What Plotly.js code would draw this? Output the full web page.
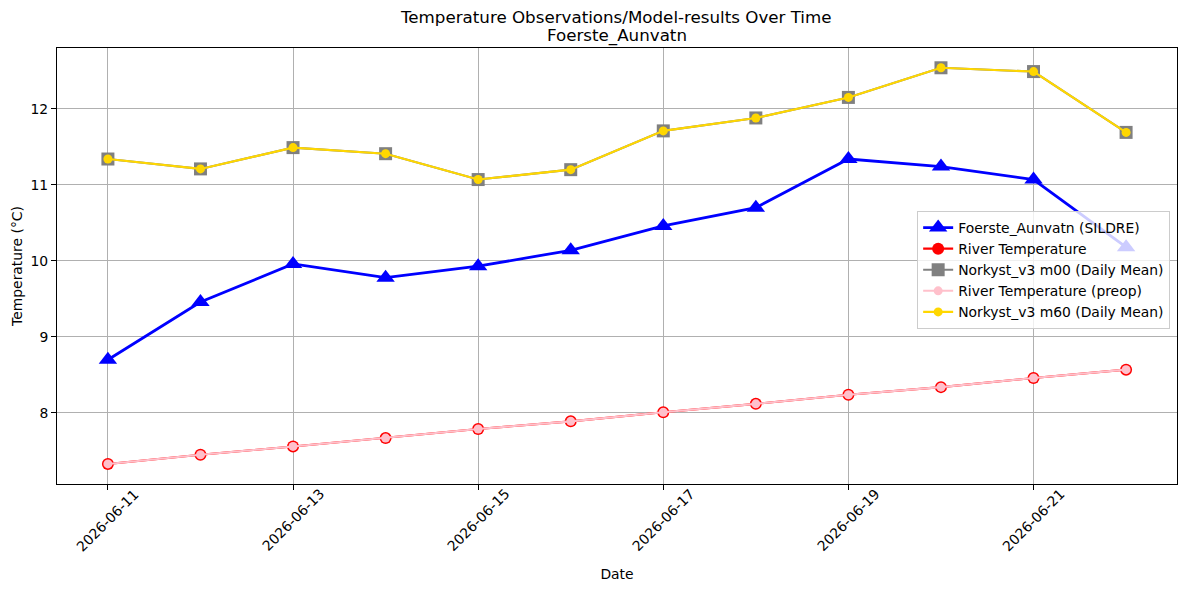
<!DOCTYPE html>
<html>
<head>
<meta charset="utf-8">
<script src="https://cdn.plot.ly/plotly-3.0.1.min.js"></script>
<style>
  html, body { margin: 0; padding: 0; background: #fff; }
  #chart { width: 1189px; height: 590px; }
</style>
</head>
<body>
<div id="chart"></div>
<script>
// Daily dates of the observation window
const dates = [
  '2026-06-11', '2026-06-12', '2026-06-13', '2026-06-14', '2026-06-15', '2026-06-16',
  '2026-06-17', '2026-06-18', '2026-06-19', '2026-06-20', '2026-06-21', '2026-06-22'
];

// Observed lake temperature at Foerste_Aunvatn (SILDRE)
const sildre = [8.70, 9.46, 9.96, 9.78, 9.93, 10.14, 10.46, 10.70, 11.34, 11.24, 11.07, 10.18];

// River temperature and its preop variant (identical series)
const riverTemp = [7.33, 7.45, 7.56, 7.67, 7.79, 7.89, 8.01, 8.12, 8.24, 8.34, 8.46, 8.57];
const riverTempPreop = [7.33, 7.45, 7.56, 7.67, 7.79, 7.89, 8.01, 8.12, 8.24, 8.34, 8.46, 8.57];

// Norkyst_v3 daily means for the m00 and m60 runs
const norkystM00 = [11.34, 11.21, 11.49, 11.41, 11.07, 11.20, 11.71, 11.88, 12.15, 12.54, 12.49, 11.69];
const norkystM60 = [11.34, 11.21, 11.49, 11.41, 11.07, 11.20, 11.71, 11.88, 12.15, 12.54, 12.49, 11.69];

// Labelled x ticks
const xTickVals = ['2026-06-11', '2026-06-13', '2026-06-15', '2026-06-17', '2026-06-19', '2026-06-21'];
const yTickVals = [8, 9, 10, 11, 12];

// Title lines
const titleMain = 'Temperature Observations/Model-results Over Time';
const titleSite = 'Foerste_Aunvatn';

const FONT = 'DejaVu Sans, sans-serif';

const traces = [
  {
    x: dates, y: sildre, name: 'Foerste_Aunvatn (SILDRE)', mode: 'lines+markers',
    line: { color: '#0000ff', width: 2.8 },
    marker: { symbol: 'triangle-up', size: 16, color: '#0000ff' }
  },
  {
    x: dates, y: riverTemp, name: 'River Temperature', mode: 'lines+markers',
    line: { color: '#ff0000', width: 2.1 },
    marker: { symbol: 'circle', size: 12, color: '#ff0000' }
  },
  {
    x: dates, y: norkystM00, name: 'Norkyst_v3 m00 (Daily Mean)', mode: 'lines+markers',
    line: { color: '#808080', width: 2.1 },
    marker: { symbol: 'square', size: 13, color: '#808080' }
  },
  {
    x: dates, y: riverTempPreop, name: 'River Temperature (preop)', mode: 'lines+markers',
    line: { color: '#ffc0cb', width: 2.1 },
    marker: { symbol: 'circle', size: 9, color: '#ffc0cb' }
  },
  {
    x: dates, y: norkystM60, name: 'Norkyst_v3 m60 (Daily Mean)', mode: 'lines+markers',
    line: { color: '#ffd700', width: 2.1 },
    marker: { symbol: 'circle', size: 9, color: '#ffd700' }
  }
];

// Rotated date labels centred on their ticks
const annotations = xTickVals.map(d => ({
  x: d, xref: 'x', y: 0, yref: 'paper', yshift: -36,
  text: d, showarrow: false, textangle: -45,
  xanchor: 'center', yanchor: 'middle',
  font: { family: FONT, size: 13.9, color: '#000' }
}));

// Second title line (site name)
annotations.push({
  x: 0.5, xref: 'paper', y: 1.0298, yref: 'paper',
  text: titleSite, showarrow: false,
  xanchor: 'center', yanchor: 'middle',
  font: { family: FONT, size: 16.7, color: '#000' }
});

const layout = {
  width: 1189, height: 590,
  margin: { l: 57, r: 12, t: 48, b: 106 },
  paper_bgcolor: '#fff', plot_bgcolor: '#fff',
  font: { family: FONT, size: 13.9, color: '#000' },
  title: {
    text: titleMain,
    x: 0.5183, xanchor: 'center', yref: 'container', y: 0.9712, yanchor: 'middle',
    font: { family: FONT, size: 16.7, color: '#000' }
  },
  xaxis: {
    type: 'date',
    range: ['2026-06-10 10:48', '2026-06-22 13:12'],
    tickvals: xTickVals, showticklabels: false,
    ticks: 'outside', ticklen: 5, tickwidth: 1, tickcolor: '#000',
    showgrid: true, gridcolor: '#b0b0b0', gridwidth: 1,
    showline: true, linecolor: '#000', linewidth: 1, mirror: true,
    zeroline: false,
    title: { text: 'Date', font: { family: FONT, size: 13.9 }, standoff: 80 }
  },
  yaxis: {
    range: [7.066, 12.80],
    tickvals: yTickVals,
    ticks: 'outside', ticklen: 5, tickwidth: 1, tickcolor: '#000',
    showgrid: true, gridcolor: '#b0b0b0', gridwidth: 1,
    showline: true, linecolor: '#000', linewidth: 1, mirror: true,
    zeroline: false,
    tickfont: { family: FONT, size: 13.9 },
    title: { text: 'Temperature (°C)', font: { family: FONT, size: 13.9 }, standoff: 4 }
  },
  showlegend: true,
  legend: {
    x: 0.768, y: 0.626, xanchor: 'left', yanchor: 'top',
    bgcolor: 'rgba(255,255,255,0.8)', bordercolor: '#cccccc', borderwidth: 1,
    font: { family: FONT, size: 13.9, color: '#000' },
    itemwidth: 30
  },
  annotations: annotations
};

Plotly.newPlot('chart', traces, layout, { displayModeBar: false, staticPlot: true });
</script>
</body>
</html>
